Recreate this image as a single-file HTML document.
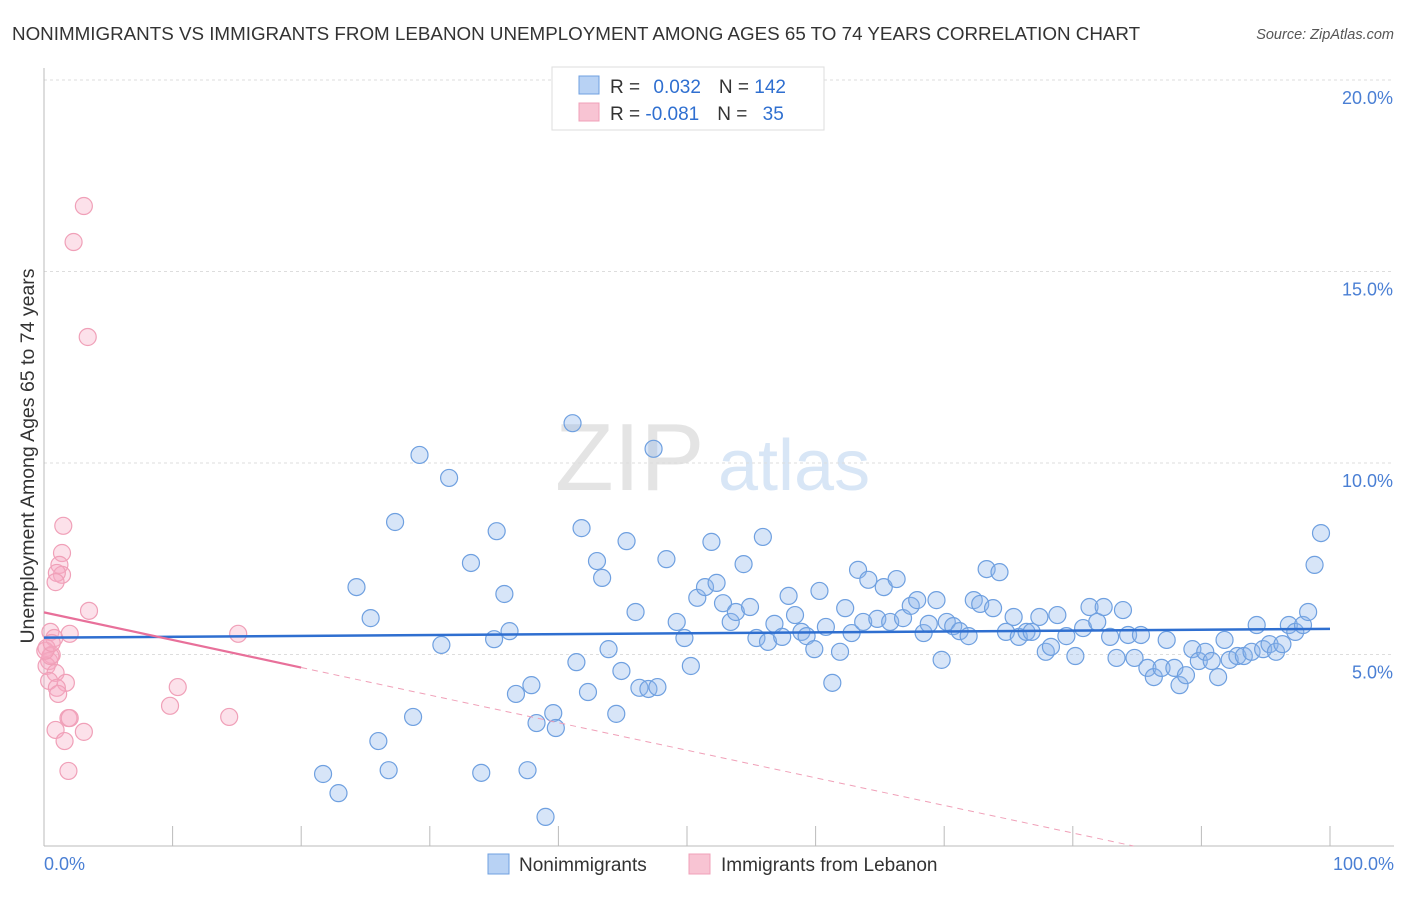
<!DOCTYPE html>
<html><head><meta charset="utf-8"><style>
body{margin:0;background:#fff;font-family:"Liberation Sans",sans-serif;}
svg text{font-family:"Liberation Sans",sans-serif;}
</style></head><body>
<svg width="1406" height="892" id="chart">
<text x="12" y="40" font-size="18.8" fill="#333">NONIMMIGRANTS VS IMMIGRANTS FROM LEBANON UNEMPLOYMENT AMONG AGES 65 TO 74 YEARS CORRELATION CHART</text>
<text x="1394" y="39" font-size="14.5" fill="#555" font-style="italic" text-anchor="end">Source: ZipAtlas.com</text>
<text x="555" y="490" font-size="96" fill="#e4e4e4" font-family="Liberation Serif">ZIP</text>
<text x="718" y="490" font-size="72" fill="#d8e6f6">atlas</text>
<g id="grid"></g><g id="axes"></g><g id="marks"></g>
<text transform="translate(34,456) rotate(-90)" font-size="19.5" fill="#333" text-anchor="middle">Unemployment Among Ages 65 to 74 years</text>
<text x="44" y="870" font-size="18" fill="#4a7fd4">0.0%</text>
<text x="1394" y="870" font-size="18" fill="#4a7fd4" text-anchor="end">100.0%</text>
<g>
<rect x="552" y="67" width="272" height="63" fill="#fff" stroke="#ddd"/>
<rect x="579" y="76" width="20" height="18" fill="#b8d2f4" stroke="#6fa0e0"/>
<rect x="579" y="103" width="20" height="18" fill="#f8c4d3" stroke="#f0a0b8"/>
<text x="610" y="93" font-size="19" fill="#333">R = <tspan fill="#2f6fd0" dx="8">0.032</tspan><tspan dx="18" fill="#333">N = </tspan><tspan fill="#2f6fd0">142</tspan></text>
<text x="610" y="120" font-size="19" fill="#333">R = <tspan fill="#2f6fd0">-0.081</tspan><tspan dx="18" fill="#333">N = </tspan><tspan fill="#2f6fd0" dx="10">35</tspan></text>
</g>
<g>
<rect x="488" y="854" width="21" height="20" fill="#b8d2f4" stroke="#6fa0e0"/>
<text x="519" y="871" font-size="19" fill="#333">Nonimmigrants</text>
<rect x="689" y="854" width="21" height="20" fill="#f8c4d3" stroke="#f0a0b8"/>
<text x="721" y="871" font-size="19" fill="#333">Immigrants from Lebanon</text>
</g>
</svg>
<script>
const yTicks=[5,10,15,20];
const yTickLabels=["5.0%","10.0%","15.0%","20.0%"];
const xTicks=[0,10,20,30,40,50,60,70,80,90,100];
const blueX=[21.7,22.9,24.3,25.4,26.0,26.8,27.3,28.7,29.2,30.9,31.5,33.2,34.0,35.0,35.2,35.8,36.2,36.7,37.6,37.9,38.3,39.0,39.6,39.8,41.1,41.4,41.8,42.3,43.0,43.4,43.9,44.5,44.9,45.3,46.0,46.3,47.0,47.4,47.7,48.4,49.2,49.8,50.3,50.8,51.4,51.9,52.3,52.8,53.4,53.8,54.4,54.9,55.4,55.9,56.3,56.8,57.4,57.9,58.4,58.9,59.3,59.9,60.3,60.8,61.3,61.9,62.3,62.8,63.3,63.7,64.1,64.8,65.3,65.8,66.3,66.8,67.4,67.9,68.4,68.8,69.4,69.8,70.2,70.7,71.2,71.9,72.3,72.8,73.3,73.8,74.3,74.8,75.4,75.8,76.4,76.8,77.4,77.9,78.3,78.8,79.5,80.2,80.8,81.3,81.9,82.4,82.9,83.4,83.9,84.3,84.8,85.3,85.8,86.3,86.9,87.3,87.9,88.3,88.8,89.3,89.8,90.3,90.8,91.3,91.8,92.2,92.8,93.3,93.9,94.3,94.8,95.3,95.8,96.3,96.8,97.3,97.9,98.3,98.8,99.3];
const blueY=[1.88,1.38,6.76,5.95,2.74,1.98,8.46,3.37,10.21,5.25,9.61,7.39,1.91,5.40,8.22,6.58,5.61,3.97,1.98,4.20,3.21,0.76,3.47,3.08,11.04,4.80,8.30,4.02,7.44,7.00,5.14,3.45,4.57,7.96,6.11,4.13,4.10,10.37,4.15,7.49,5.85,5.43,4.70,6.48,6.76,7.94,6.87,6.34,5.85,6.11,7.36,6.24,5.43,8.07,5.33,5.80,5.46,6.53,6.03,5.59,5.48,5.14,6.66,5.72,4.26,5.07,6.21,5.56,7.21,5.85,6.95,5.93,6.76,5.85,6.97,5.95,6.27,6.42,5.56,5.80,6.42,4.86,5.85,5.74,5.61,5.48,6.42,6.32,7.23,6.21,7.15,5.59,5.98,5.46,5.59,5.59,5.98,5.07,5.20,6.03,5.48,4.96,5.69,6.24,5.85,6.24,5.46,4.91,6.16,5.51,4.91,5.51,4.65,4.41,4.65,5.38,4.65,4.20,4.46,5.14,4.83,5.07,4.83,4.41,5.38,4.86,4.96,4.96,5.07,5.77,5.14,5.27,5.07,5.27,5.77,5.59,5.77,6.11,7.34,8.17];
const pinkX=[3.1,2.3,3.4,1.5,1.4,1.2,1.4,1.0,0.9,3.5,0.5,0.8,2.0,15.1,0.2,0.6,0.4,0.2,0.9,0.4,1.7,1.0,10.4,1.1,9.8,1.9,2.0,14.4,0.9,3.1,1.6,1.9,0.5,0.1,0.6];
const pinkY=[16.71,15.77,13.29,8.36,7.65,7.34,7.08,7.13,6.89,6.14,5.59,5.43,5.54,5.54,5.17,4.99,4.83,4.70,4.52,4.31,4.26,4.13,4.15,3.97,3.66,3.34,3.34,3.37,3.03,2.98,2.74,1.96,4.96,5.1,5.3];
const blueTrend=[5.44,5.67];
const pinkTrend=[6.1,-0.072];
const NS="http://www.w3.org/2000/svg";
const X=v=>44+v*12.86, Y=v=>846-v*38.3;
function mk(t,a,p){const e=document.createElementNS(NS,t);for(const k in a)e.setAttribute(k,a[k]);document.getElementById(p).appendChild(e);return e;}
yTicks.forEach((t,i)=>{
 const l=mk('line',{x1:44,x2:1394,y1:Y(t),y2:Y(t),stroke:'#ddd','stroke-dasharray':'3,3'},'grid');
 
 
 const tx=mk('text',{x:1393,y:Y(t)+24,'font-size':18,fill:'#4a7fd4','text-anchor':'end'},'grid');
 tx.textContent=yTickLabels[i];
 
 
});
const topLine=mk('line',{x1:44,x2:1394,y1:80,y2:80,stroke:'#ddd','stroke-dasharray':'3,3'},'grid');


const ya=mk('line',{x1:44,x2:44,y1:68,y2:846,stroke:'#bbb'},'axes');


const xa=mk('line',{x1:44,x2:1394,y1:846,y2:846,stroke:'#bbb'},'axes');


xTicks.forEach(t=>{
 const l=mk('line',{x1:X(t),x2:X(t),y1:826,y2:846,stroke:'#bbb'},'axes');
 
 
});
blueX.forEach((x,i)=>{
 const c=mk('circle',{cx:X(x),cy:Y(blueY[i]),r:8.5,fill:'rgba(140,180,235,0.35)',stroke:'#6fa0e0','stroke-width':1.2},'marks');
 
 
});
pinkX.forEach((x,i)=>{
 const c=mk('circle',{cx:X(x),cy:Y(pinkY[i]),r:8.5,fill:'rgba(245,170,195,0.35)',stroke:'#f0a0b8','stroke-width':1.2},'marks');
 
 
});
const bt=mk('line',{x1:X(0),y1:Y(blueTrend[0]),x2:X(100),y2:Y(blueTrend[1]),stroke:'#2f6fd0','stroke-width':2.5},'marks');


const pf=x=>pinkTrend[0]+pinkTrend[1]*x;
const ps=mk('line',{x1:X(0),y1:Y(pf(0)),x2:X(20),y2:Y(pf(20)),stroke:'#e8709a','stroke-width':2.2},'marks');


const xe=-pinkTrend[0]/pinkTrend[1];
const pd=mk('line',{x1:X(20),y1:Y(pf(20)),x2:X(xe),y2:Y(0),stroke:'#f0a0b8','stroke-width':1,'stroke-dasharray':'6,5'},'marks');


</script>
</body></html>
